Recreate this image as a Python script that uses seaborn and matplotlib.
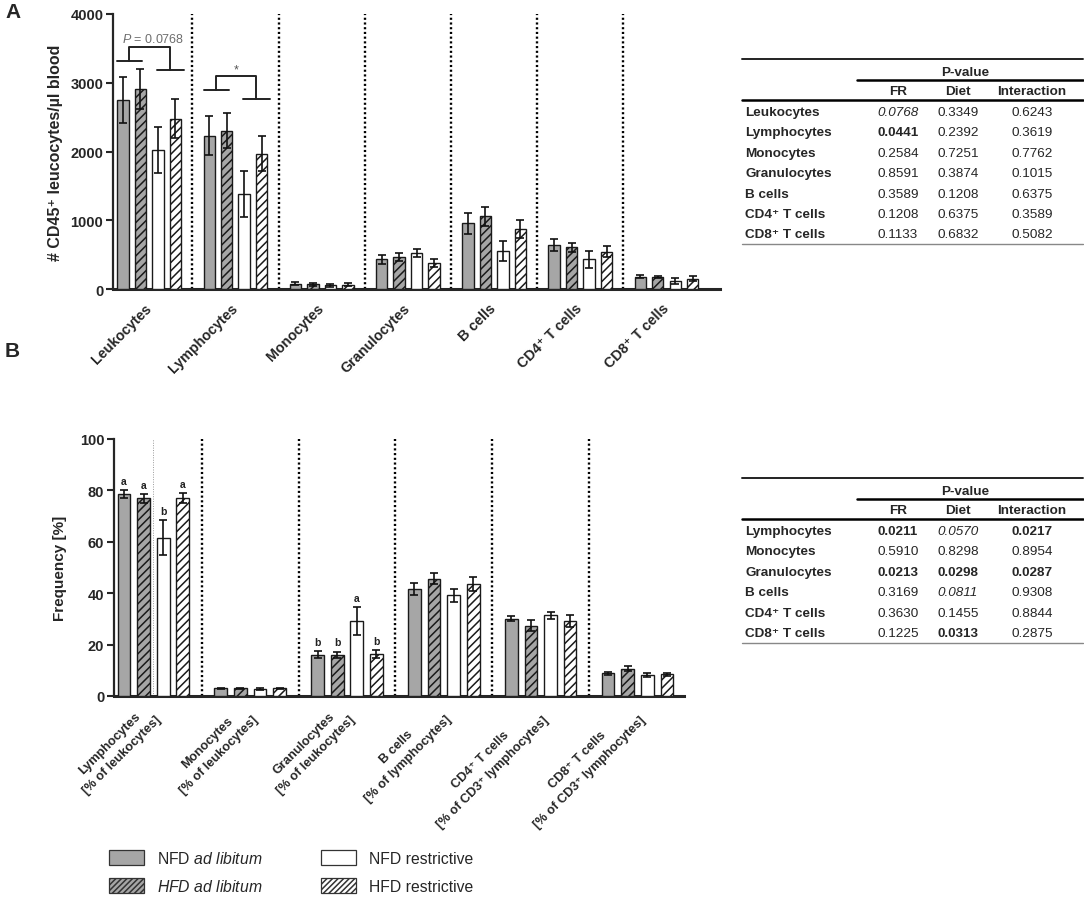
import numpy as np
import pandas as pd
import matplotlib
matplotlib.use("Agg")
import matplotlib.pyplot as plt
import seaborn as sns
from matplotlib.lines import Line2D
from matplotlib.patches import Patch
from matplotlib.container import BarContainer

# ---------------- data ----------------
groups = ["NFD ad libitum", "HFD ad libitum", "NFD restrictive", "HFD restrictive"]

cells_a = ["Leukocytes", "Lymphocytes", "Monocytes", "Granulocytes",
           "B cells", "CD4\u207a T cells", "CD8\u207a T cells"]
nfd_al_a = [2750, 2230, 75, 430, 955, 640, 180]
hfd_al_a = [2905, 2300, 70, 470, 1055, 605, 178]
nfd_r_a = [2020, 1385, 55, 525, 555, 430, 118]
hfd_r_a = [2480, 1970, 65, 380, 870, 545, 152]
nfd_al_a_err = [340, 285, 20, 60, 155, 85, 22]
hfd_al_a_err = [290, 255, 20, 60, 145, 65, 15]
nfd_r_a_err = [330, 335, 20, 60, 150, 125, 40]
hfd_r_a_err = [285, 250, 20, 55, 135, 80, 30]

cells_b = ["Lymphocytes\n[% of leukocytes]", "Monocytes\n[% of leukocytes]",
           "Granulocytes\n[% of leukocytes]", "B cells\n[% of lymphocytes]",
           "CD4\u207a T cells\n[% of CD3\u207a lymphocytes]",
           "CD8\u207a T cells\n[% of CD3\u207a lymphocytes]"]
nfd_al_b = [78.6, 3.0, 16.1, 41.7, 30.1, 8.9]
hfd_al_b = [76.9, 3.0, 16.0, 45.7, 27.3, 10.7]
nfd_r_b = [61.6, 2.8, 29.2, 39.2, 31.4, 8.2]
hfd_r_b = [76.9, 3.0, 16.3, 43.6, 29.2, 8.5]
nfd_al_b_err = [1.5, 0.3, 1.4, 2.4, 0.9, 0.6]
hfd_al_b_err = [1.7, 0.3, 1.3, 2.0, 2.1, 1.0]
nfd_r_b_err = [6.9, 0.3, 5.5, 2.5, 1.4, 0.7]
hfd_r_b_err = [1.9, 0.3, 1.6, 2.6, 2.2, 0.6]
letters_b = {0: ["a", "a", "b", "a"], 2: ["b", "b", "a", "b"]}

table_a_rows = ["Leukocytes", "Lymphocytes", "Monocytes", "Granulocytes",
                "B cells", "CD4\u207a T cells", "CD8\u207a T cells"]
table_a_fr = ["0.0768", "0.0441", "0.2584", "0.8591", "0.3589", "0.1208", "0.1133"]
table_a_diet = ["0.3349", "0.2392", "0.7251", "0.3874", "0.1208", "0.6375", "0.6832"]
table_a_int = ["0.6243", "0.3619", "0.7762", "0.1015", "0.6375", "0.3589", "0.5082"]
table_a_style = {(0, 0): "i", (1, 0): "b"}

table_b_rows = ["Lymphocytes", "Monocytes", "Granulocytes", "B cells",
                "CD4\u207a T cells", "CD8\u207a T cells"]
table_b_fr = ["0.0211", "0.5910", "0.0213", "0.3169", "0.3630", "0.1225"]
table_b_diet = ["0.0570", "0.8298", "0.0298", "0.0811", "0.1455", "0.0313"]
table_b_int = ["0.0217", "0.8954", "0.0287", "0.9308", "0.8844", "0.2875"]
table_b_style = {(0, 0): "b", (0, 1): "i", (0, 2): "b", (2, 0): "b", (2, 1): "b",
                 (2, 2): "b", (3, 1): "i", (5, 1): "b"}

# ---------------- style ----------------
sns.set_style("ticks")
plt.rcParams["font.family"] = ["Liberation Sans", "DejaVu Sans"]
plt.rcParams["mathtext.fontset"] = "custom"
plt.rcParams["mathtext.rm"] = "Liberation Sans"
plt.rcParams["mathtext.it"] = "Liberation Sans:italic"
plt.rcParams["mathtext.bf"] = "Liberation Sans:bold"
plt.rcParams["hatch.color"] = "#1a1a1a"
plt.rcParams["hatch.linewidth"] = 1.1

face = {groups[0]: "#a6a6a6", groups[1]: "#a6a6a6", groups[2]: "white", groups[3]: "white"}
hatches = ["", "////", "", "////"]
EDGE = "#1a1a1a"

W, H = 1084, 903
fig = plt.figure(figsize=(W / 100, H / 100), dpi=100)


def fx(px):
    return px / W


def fy(py):
    return 1 - py / H


def draw_panel(ax, cats, vals, errs):
    rows = []
    for g, v in zip(groups, vals):
        for c, val in zip(cats, v):
            rows.append({"cell": c, "value": val, "group": g})
    df = pd.DataFrame(rows)
    sns.barplot(data=df, x="cell", y="value", hue="group", order=cats, hue_order=groups,
                palette=face, saturation=1, width=0.81, gap=0.35, errorbar=None,
                legend=False, edgecolor=EDGE, linewidth=1.0, ax=ax, zorder=3)
    conts = [c for c in ax.containers if isinstance(c, BarContainer)]
    centers = []
    for hi, cont in enumerate(conts):
        row = []
        for bar in cont.patches:
            bar.set_hatch(hatches[hi])
            xc = bar.get_x() + bar.get_width() / 2
            ci = int(round(xc))
            ax.errorbar(xc, bar.get_height(), yerr=errs[hi][ci], fmt="none",
                        ecolor="#111111", elinewidth=1.2, capsize=2.6, capthick=1.2, zorder=4)
            row.append((xc, bar.get_height() + errs[hi][ci]))
        centers.append(row)
    for i in range(len(cats) - 1):
        ax.axvline(i + 0.5, color="black", ls=(0, (0.9, 1.1)), lw=1.7, zorder=2)
    ax.set_xlabel("")
    sns.despine(ax=ax)
    ax.spines["left"].set_linewidth(1.6)
    ax.spines["bottom"].set_linewidth(2.2)
    ax.tick_params(axis="y", length=5, width=1.5, direction="out", pad=2)
    ax.tick_params(axis="x", length=0)
    return centers


# ---------------- panel A ----------------
axA = fig.add_axes([fx(113), fy(290), fx(720) - fx(113), fy(15) - fy(290)])
vals_a = [nfd_al_a, hfd_al_a, nfd_r_a, hfd_r_a]
errs_a = [nfd_al_a_err, hfd_al_a_err, nfd_r_a_err, hfd_r_a_err]
draw_panel(axA, cells_a, vals_a, errs_a)
axA.set_xlim(-0.42, 6.62)
axA.set_ylim(0, 4000)
ticks_a = [0, 1000, 2000, 3000, 4000]
axA.set_yticks(ticks_a)
axA.set_yticklabels([str(t) for t in ticks_a], fontweight="bold", fontsize=10.5)
axA.set_xticks(range(len(cells_a)))
axA.set_xticklabels(cells_a, rotation=45, ha="right", va="center",
                    rotation_mode="anchor", fontweight="bold", fontsize=10.3)
axA.tick_params(axis="x", pad=12)
axA.set_ylabel("# CD45\u207a leucocytes/\u00b5l blood", fontweight="bold", fontsize=11.5, labelpad=5)


# significance brackets (annotation)
def bracket(ax, gi, yl, yr, ytop, color="#222222"):
    ax.plot([gi - 0.37, gi - 0.08], [yl, yl], color=color, lw=1.4, zorder=5)
    ax.plot([gi + 0.09, gi + 0.40], [yr, yr], color=color, lw=1.4, zorder=5)
    ax.plot([gi - 0.23, gi - 0.23, gi + 0.24, gi + 0.24], [yl, ytop, ytop, yr],
            color=color, lw=1.4, zorder=5)


bracket(axA, 0, 3320, 3190, 3525)
axA.text(0.05, 3640, r"$\mathit{P}$ = 0.0768", ha="center", va="center",
         fontsize=9, color="#6e6e6e")
bracket(axA, 1, 2900, 2764, 3098)
axA.text(1.01, 3190, "*", ha="center", va="center", fontsize=9, color="#555555")

# ---------------- panel B ----------------
axB = fig.add_axes([fx(114), fy(697), fx(684) - fx(114), fy(440) - fy(697)])
vals_b = [nfd_al_b, hfd_al_b, nfd_r_b, hfd_r_b]
errs_b = [nfd_al_b_err, hfd_al_b_err, nfd_r_b_err, hfd_r_b_err]
cent_b = draw_panel(axB, cells_b, vals_b, errs_b)
axB.axvline(0, color="#9a9a9a", ls=(0, (1, 1.5)), lw=0.7, zorder=2)
axB.set_xlim(-0.407, 5.48)
axB.set_ylim(0, 100)
ticks_b = [0, 20, 40, 60, 80, 100]
axB.set_yticks(ticks_b)
axB.set_yticklabels([str(t) for t in ticks_b], fontweight="bold", fontsize=10.5)
axB.set_xticks(range(len(cells_b)))
axB.set_xticklabels(cells_b, rotation=45, ha="right", va="center",
                    rotation_mode="anchor", fontweight="bold", fontsize=9.2,
                    multialignment="center", linespacing=1.55)
axB.tick_params(axis="x", pad=11)
axB.set_ylabel("Frequency [%]", fontweight="bold", fontsize=11, labelpad=9)

for ci, labs in letters_b.items():
    for hi, lab in enumerate(labs):
        xc, top = [p for p in cent_b[hi] if int(round(p[0])) == ci][0]
        axB.text(xc, top + 3.6, lab, ha="center", va="center", fontsize=7.5,
                 fontweight="bold", color="#222222")


# ---------------- tables ----------------
def hline(x0, x1, y, lw, color="black"):
    fig.add_artist(Line2D([fx(x0), fx(x1)], [fy(y), fy(y)], transform=fig.transFigure,
                          lw=lw, color=color))


def draw_table(ytop, rows, fr, diet, inter, styles):
    FS = 9.7
    hline(742, 1083, ytop, 1.4, "#222222")
    fig.text(fx(965), fy(ytop + 13), "P-value", ha="center", va="center",
             fontsize=FS, fontweight="bold")
    hline(857, 1083, ytop + 21, 1.8)
    hdr_y = ytop + 32
    cols_x = [898, 958, 1032]
    for x, t in zip(cols_x, ["FR", "Diet", "Interaction"]):
        fig.text(fx(x), fy(hdr_y), t, ha="center", va="center", fontsize=FS, fontweight="bold")
    hline(742, 1083, ytop + 41, 1.8)
    y0 = ytop + 53
    for r, name in enumerate(rows):
        y = y0 + r * 20.4
        fig.text(fx(745), fy(y), name, ha="left", va="center", fontsize=FS, fontweight="bold")
        for c, col in enumerate([fr, diet, inter]):
            st = styles.get((r, c), "")
            fig.text(fx(cols_x[c]), fy(y), col[r], ha="center", va="center", fontsize=FS,
                     fontweight="bold" if st == "b" else "normal",
                     fontstyle="italic" if st == "i" else "normal")
    hline(742, 1083, y0 + (len(rows) - 1) * 20.4 + 9.5, 1.0, "#888888")


draw_table(60, table_a_rows, table_a_fr, table_a_diet, table_a_int, table_a_style)
draw_table(479, table_b_rows, table_b_fr, table_b_diet, table_b_int, table_b_style)

# ---------------- panel letters ----------------
fig.text(fx(5), fy(13), "A", fontsize=15, fontweight="bold", va="center", ha="left")
fig.text(fx(5), fy(352), "B", fontsize=15, fontweight="bold", va="center", ha="left")

# ---------------- legend ----------------
handles = [Patch(facecolor=face[g], edgecolor="#333333", hatch=h.replace("////", "//////"),
                 linewidth=0.9) for g, h in zip(groups, hatches)]
labels = [r"NFD $\mathit{ad\ libitum}$", r"$\mathit{HFD\ ad\ libitum}$",
          "NFD restrictive", "HFD restrictive"]
fig.legend(handles, labels, loc="upper left", bbox_to_anchor=(fx(109), fy(851)),
           ncol=2, frameon=False, fontsize=11.3, handlelength=2.23, handleheight=1.08,
           handletextpad=0.83, labelspacing=0.76, columnspacing=3.75,
           borderpad=0, borderaxespad=0)

fig.savefig("out.png", dpi=100)
